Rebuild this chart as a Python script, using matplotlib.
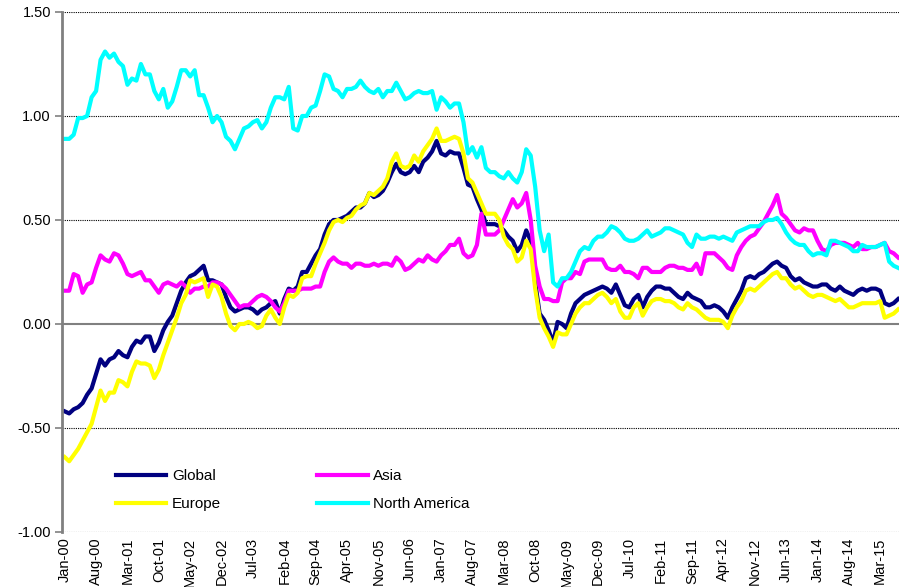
import matplotlib
matplotlib.use("Agg")
import matplotlib.pyplot as plt
import numpy as np

plt.rcParams['font.family'] = ['Liberation Sans', 'DejaVu Sans']

# monthly values, Jan-00 .. Jul-15
global_vals = [
    -0.42, -0.43, -0.41, -0.40, -0.38, -0.34, -0.31, -0.24, -0.17, -0.20, -0.17, -0.16,
    -0.13, -0.15, -0.16, -0.11, -0.08, -0.09, -0.06, -0.06, -0.13, -0.09, -0.03, 0.01,
    0.04, 0.10, 0.16, 0.20, 0.23, 0.24, 0.26, 0.28, 0.21, 0.21, 0.20, 0.19,
    0.13, 0.08, 0.06, 0.07, 0.08, 0.08, 0.07, 0.05, 0.07, 0.08, 0.10, 0.11,
    0.05, 0.12, 0.17, 0.16, 0.18, 0.25, 0.25, 0.29, 0.33, 0.36, 0.43, 0.48,
    0.50, 0.50, 0.51, 0.52, 0.54, 0.56, 0.56, 0.58, 0.63, 0.61, 0.62, 0.64,
    0.68, 0.73, 0.77, 0.73, 0.72, 0.73, 0.76, 0.73, 0.78, 0.80, 0.83, 0.88,
    0.82, 0.81, 0.83, 0.82, 0.82, 0.75, 0.67, 0.66, 0.60, 0.55, 0.48, 0.48,
    0.48, 0.47, 0.45, 0.42, 0.40, 0.35, 0.38, 0.45, 0.40, 0.20, 0.05, 0.02,
    -0.03, -0.09, 0.01, 0.00, -0.02, 0.05, 0.10, 0.12, 0.14, 0.15, 0.16, 0.17,
    0.18, 0.17, 0.15, 0.19, 0.14, 0.09, 0.08, 0.12, 0.14, 0.08, 0.13, 0.16,
    0.18, 0.18, 0.17, 0.17, 0.15, 0.13, 0.12, 0.15, 0.13, 0.12, 0.11, 0.08,
    0.08, 0.09, 0.08, 0.06, 0.03, 0.08, 0.12, 0.16, 0.22, 0.23, 0.22, 0.24,
    0.25, 0.27, 0.29, 0.30, 0.28, 0.27, 0.23, 0.21, 0.22, 0.20, 0.19, 0.18,
    0.18, 0.19, 0.19, 0.17, 0.16, 0.18, 0.16, 0.15, 0.14, 0.16, 0.17, 0.16,
    0.17, 0.17, 0.16, 0.10, 0.09, 0.10, 0.12,
]

asia_vals = [
    0.16, 0.16, 0.24, 0.23, 0.15, 0.19, 0.20, 0.27, 0.33, 0.31, 0.30, 0.34,
    0.33, 0.29, 0.24, 0.23, 0.24, 0.25, 0.21, 0.21, 0.18, 0.15, 0.19, 0.20,
    0.19, 0.18, 0.20, 0.18, 0.15, 0.17, 0.17, 0.18, 0.18, 0.20, 0.20, 0.19,
    0.17, 0.14, 0.11, 0.08, 0.09, 0.09, 0.11, 0.13, 0.14, 0.13, 0.11, 0.08,
    0.06, 0.10, 0.16, 0.16, 0.16, 0.17, 0.17, 0.17, 0.18, 0.18, 0.25, 0.30,
    0.32, 0.30, 0.29, 0.29, 0.27, 0.29, 0.29, 0.28, 0.28, 0.29, 0.28, 0.29,
    0.29, 0.28, 0.32, 0.30, 0.26, 0.27, 0.29, 0.31, 0.30, 0.33, 0.31, 0.30,
    0.33, 0.35, 0.38, 0.38, 0.41, 0.34, 0.32, 0.33, 0.38, 0.53, 0.43, 0.43,
    0.43, 0.45, 0.50, 0.55, 0.60, 0.56, 0.58, 0.63, 0.50, 0.28, 0.18, 0.12,
    0.12, 0.11, 0.11, 0.20, 0.22, 0.22, 0.25, 0.24, 0.30, 0.31, 0.31, 0.31,
    0.31, 0.27, 0.26, 0.26, 0.28, 0.25, 0.25, 0.24, 0.22, 0.27, 0.27, 0.25,
    0.25, 0.25, 0.27, 0.28, 0.28, 0.27, 0.27, 0.26, 0.26, 0.29, 0.24, 0.34,
    0.34, 0.34, 0.32, 0.30, 0.27, 0.26, 0.33, 0.37, 0.40, 0.42, 0.43, 0.46,
    0.49, 0.53, 0.57, 0.62, 0.53, 0.51, 0.48, 0.45, 0.44, 0.46, 0.45, 0.45,
    0.40, 0.36, 0.35, 0.38, 0.39, 0.39, 0.39, 0.38, 0.37, 0.39, 0.36, 0.36,
    0.37, 0.37, 0.38, 0.39, 0.35, 0.34, 0.32,
]

europe_vals = [
    -0.64, -0.66, -0.63, -0.60, -0.56, -0.52, -0.48, -0.40, -0.32, -0.37, -0.33, -0.33,
    -0.27, -0.28, -0.30, -0.23, -0.18, -0.19, -0.19, -0.20, -0.26, -0.22, -0.15, -0.09,
    -0.03, 0.03, 0.10, 0.14, 0.21, 0.20, 0.21, 0.22, 0.13, 0.19, 0.18, 0.13,
    0.05, -0.01, -0.03, 0.00, 0.00, 0.01, 0.00, -0.02, -0.01, 0.04, 0.07, 0.03,
    0.00, 0.08, 0.14, 0.13, 0.15, 0.22, 0.23, 0.23, 0.29, 0.34, 0.39, 0.45,
    0.49, 0.50, 0.49, 0.51, 0.52, 0.55, 0.57, 0.58, 0.63, 0.62, 0.64, 0.66,
    0.70, 0.78, 0.82, 0.76, 0.75, 0.76, 0.81, 0.78, 0.83, 0.86, 0.89, 0.94,
    0.88, 0.88, 0.89, 0.90, 0.89, 0.82, 0.70, 0.68, 0.63, 0.58, 0.53, 0.53,
    0.53, 0.50, 0.42, 0.38, 0.36, 0.30, 0.32, 0.40, 0.36, 0.17, 0.03, -0.02,
    -0.06, -0.11, -0.04, -0.05, -0.05, 0.00, 0.05, 0.08, 0.10, 0.10, 0.12, 0.14,
    0.15, 0.13, 0.10, 0.12, 0.06, 0.03, 0.03, 0.08, 0.10, 0.04, 0.08, 0.11,
    0.12, 0.12, 0.11, 0.11, 0.10, 0.08, 0.07, 0.10, 0.08, 0.07, 0.05, 0.03,
    0.02, 0.02, 0.02, 0.01, -0.02, 0.04, 0.08, 0.11, 0.16, 0.17, 0.16, 0.18,
    0.20, 0.22, 0.24, 0.25, 0.22, 0.22, 0.19, 0.17, 0.18, 0.16, 0.14, 0.13,
    0.14, 0.14, 0.13, 0.12, 0.11, 0.12, 0.10, 0.08, 0.08, 0.09, 0.10, 0.10,
    0.10, 0.10, 0.11, 0.03, 0.04, 0.05, 0.07,
]

north_america_vals = [
    0.89, 0.89, 0.91, 0.99, 0.99, 1.00, 1.09, 1.12, 1.27, 1.31, 1.28, 1.30,
    1.26, 1.24, 1.15, 1.18, 1.17, 1.25, 1.20, 1.20, 1.12, 1.08, 1.13, 1.04,
    1.07, 1.14, 1.22, 1.22, 1.19, 1.22, 1.10, 1.10, 1.04, 0.97, 1.00, 0.97,
    0.90, 0.88, 0.84, 0.89, 0.94, 0.95, 0.97, 0.98, 0.94, 0.97, 1.04, 1.09,
    1.09, 1.08, 1.14, 0.94, 0.93, 1.00, 1.00, 1.04, 1.05, 1.12, 1.20, 1.19,
    1.13, 1.12, 1.09, 1.13, 1.13, 1.14, 1.17, 1.14, 1.12, 1.11, 1.13, 1.09,
    1.12, 1.12, 1.16, 1.12, 1.08, 1.09, 1.11, 1.12, 1.11, 1.11, 1.12, 1.03,
    1.09, 1.07, 1.04, 1.06, 1.06, 0.97, 0.82, 0.85, 0.80, 0.85, 0.75, 0.73,
    0.73, 0.71, 0.70, 0.73, 0.70, 0.68, 0.73, 0.84, 0.81, 0.66, 0.45, 0.35,
    0.43, 0.20, 0.18, 0.22, 0.22, 0.25, 0.30, 0.35, 0.37, 0.36, 0.40, 0.42,
    0.42, 0.44, 0.47, 0.46, 0.44, 0.41, 0.40, 0.40, 0.41, 0.43, 0.45, 0.42,
    0.43, 0.44, 0.46, 0.46, 0.45, 0.44, 0.43, 0.39, 0.37, 0.43, 0.41, 0.41,
    0.42, 0.42, 0.41, 0.42, 0.41, 0.40, 0.44, 0.45, 0.46, 0.47, 0.47, 0.47,
    0.49, 0.50, 0.50, 0.51, 0.48, 0.44, 0.41, 0.39, 0.38, 0.38, 0.35, 0.33,
    0.34, 0.34, 0.33, 0.40, 0.40, 0.39, 0.38, 0.37, 0.35, 0.35, 0.38, 0.37,
    0.37, 0.37, 0.38, 0.39, 0.30, 0.28, 0.27,
]

tick_labels = ['Jan-00', 'Aug-00', 'Mar-01', 'Oct-01', 'May-02', 'Dec-02', 'Jul-03',
               'Feb-04', 'Sep-04', 'Apr-05', 'Nov-05', 'Jun-06', 'Jan-07', 'Aug-07',
               'Mar-08', 'Oct-08', 'May-09', 'Dec-09', 'Jul-10', 'Feb-11', 'Sep-11',
               'Apr-12', 'Nov-12', 'Jun-13', 'Jan-14', 'Aug-14', 'Mar-15']

x = np.arange(len(global_vals))

fig = plt.figure(figsize=(8.99, 5.87), dpi=100)
ax = fig.add_axes([0.069, 0.0937, 0.931, 0.8859])

ax.plot(x, global_vals, color='#000080', lw=3, label='Global', solid_joinstyle='round')
ax.plot(x, asia_vals, color='#FF00FF', lw=3, label='Asia', solid_joinstyle='round')
ax.plot(x, europe_vals, color='#FFFF00', lw=3, label='Europe', solid_joinstyle='round')
ax.plot(x, north_america_vals, color='#00FFFF', lw=3, label='North America', solid_joinstyle='round')

ax.set_xlim(-0.6, 186.2)
ax.set_ylim(-1.0, 1.5)

yt = np.arange(-1.0, 1.51, 0.5)
ax.set_yticks(yt)
ax.set_yticklabels(['%.2f' % v for v in yt], fontsize=10.5)
for v in yt:
    if abs(v) < 1e-9:
        ax.axhline(v, color='#808080', lw=1.5, zorder=0.5)
    else:
        ax.axhline(v, color='black', lw=0.8, ls=(0, (1, 1)), zorder=0.5)

ax.set_xticks(np.arange(0, len(x), 7)[:len(tick_labels)])
ax.set_xticklabels(tick_labels, rotation=90, fontsize=10.5)
ax.tick_params(axis='x', length=0, pad=4)
ax.tick_params(axis='y', length=5, color='#808080', width=1.2, pad=3)

for s in ['top', 'right', 'bottom']:
    ax.spines[s].set_visible(False)
ax.spines['left'].set_color('#808080')
ax.spines['left'].set_linewidth(2)

h, l = ax.get_legend_handles_labels()
order = [0, 2, 1, 3]
ax.legend([h[i] for i in order], [l[i] for i in order], ncol=2, frameon=False,
          fontsize=11, handlelength=3.3, handletextpad=0.35, columnspacing=6.3,
          labelspacing=0.92, loc='upper left',
          bbox_to_anchor=(116 / 899, 1 - 469 / 587), bbox_transform=fig.transFigure,
          borderaxespad=0, borderpad=0)

fig.savefig('out.png', dpi=100)
